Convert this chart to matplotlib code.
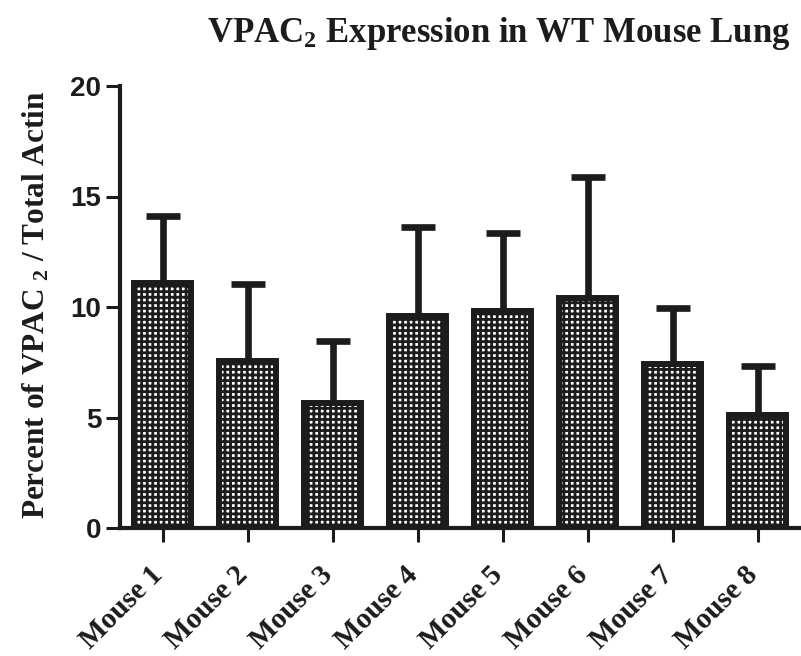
import numpy as np
import matplotlib
matplotlib.use("Agg")
import matplotlib.pyplot as plt
import matplotlib.transforms as mtransforms

# values
mice = ["Mouse 1", "Mouse 2", "Mouse 3", "Mouse 4",
        "Mouse 5", "Mouse 6", "Mouse 7", "Mouse 8"]
means = [11.1, 7.55, 5.65, 9.6, 9.8, 10.4, 7.4, 5.1]
upper = [14.1, 11.05, 8.45, 13.6, 13.35, 15.9, 9.95, 7.35]
errs = [u - m for u, m in zip(upper, means)]
yticks = [0, 5, 10, 15, 20]

ink = "#1c1c1c"
plt.rcParams["hatch.color"] = ink
plt.rcParams["hatch.linewidth"] = 2.0
plt.rcParams["mathtext.fontset"] = "custom"
plt.rcParams["mathtext.rm"] = "Liberation Serif:bold"
plt.rcParams["mathtext.bf"] = "Liberation Serif:bold"
plt.rcParams["mathtext.it"] = "Liberation Serif:bold"

fig = plt.figure(figsize=(8.01, 6.56), dpi=100)
ax = fig.add_axes([120 / 801, 128 / 656, 680 / 801, 442 / 656])

x = np.arange(len(mice))

# error bars (upper only) go behind the bars
eb = ax.errorbar(x, means, yerr=[np.zeros(len(errs)), errs], fmt="none",
                 ecolor=ink, elinewidth=4.8, capsize=12.5, capthick=4.8,
                 zorder=1)
eb.lines[1][0].set_visible(False)

ax.bar(x, means, width=0.665, color="white", edgecolor=ink, linewidth=4.3,
       hatch="+++", zorder=2)

ax.set_xlim(-0.5, 7.5)
ax.set_ylim(0, 20)
ax.set_yticks(yticks)
ax.set_xticks(x)

for side in ["top", "right"]:
    ax.spines[side].set_visible(False)
for side in ["left", "bottom"]:
    ax.spines[side].set_linewidth(3)
    ax.spines[side].set_color(ink)

ax.tick_params(axis="y", length=10, width=2.2, pad=3.5, colors=ink)
ax.tick_params(axis="x", length=10, width=2.2, pad=14, colors=ink)

for lbl in ax.get_yticklabels():
    lbl.set_fontfamily("Liberation Sans")
    lbl.set_fontweight("bold")
    lbl.set_fontsize(20)

ax.set_xticklabels(mice, rotation=45, ha="right", va="top",
                   fontfamily="Liberation Serif", fontweight="bold",
                   fontsize=21, color=ink)
shift = mtransforms.ScaledTranslation(6 / 100, 0, fig.dpi_scale_trans)
for lbl in ax.get_xticklabels():
    lbl.set_transform(lbl.get_transform() + shift)

fig.text(0.987, 0.936, r"VPAC$_2$ Expression in WT Mouse Lung",
         ha="right", va="baseline", fontfamily="Liberation Serif",
         fontweight="bold", fontsize=25, color=ink)

fig.text(0.045, 0.535, r"Percent of VPAC $_2$ / Total Actin", rotation=90,
         ha="center", va="center", fontfamily="Liberation Serif",
         fontweight="bold", fontsize=22.5, color=ink)

fig.savefig("out.png", dpi=100, facecolor="white")
